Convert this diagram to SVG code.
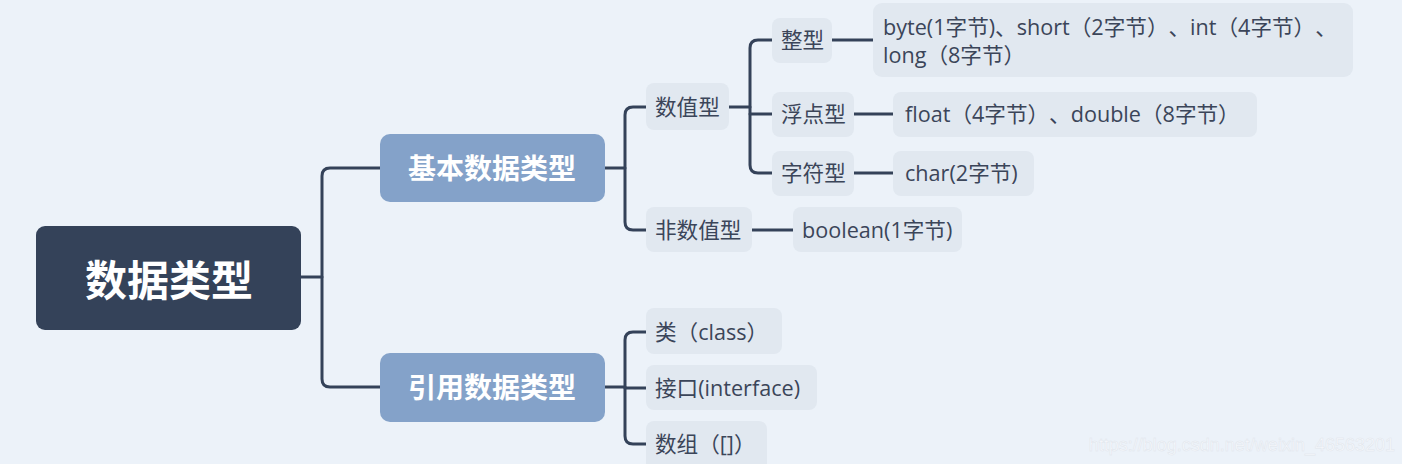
<svg xmlns="http://www.w3.org/2000/svg" width="1402" height="464" viewBox="0 0 1402 464">
<style>
.t{font-family:"Open Sans","Noto Sans CJK SC",sans-serif;font-size:21.6px;fill:#3b4559;dominant-baseline:central;text-spacing-trim:space-all}
.leaf{fill:#e1e8f0}
.main{fill:#84a2c9}
.mt{font-family:"Noto Sans CJK SC","Noto Sans",sans-serif;font-size:28px;font-weight:bold;fill:#ffffff;text-anchor:middle;dominant-baseline:central}
.ln{fill:none;stroke:#344259;stroke-width:3;stroke-linecap:round}
</style>
<rect width="1402" height="464" fill="#ecf2f9"/>
<g id="connectors">
<path class="ln" d="M301,277 H322"/>
<path class="ln" d="M380,168 H330 Q322,168 322,176 V379 Q322,387 330,387 H380"/>
<path class="ln" d="M605,168 H625"/>
<path class="ln" d="M646,107 H633 Q625,107 625,115 V222 Q625,230 633,230 H646"/>
<path class="ln" d="M729,107 H750"/>
<path class="ln" d="M772,40 H758 Q750,40 750,48 V165 Q750,173 758,173 H772"/>
<path class="ln" d="M750,114 H772"/>
<path class="ln" d="M832,40 H873"/>
<path class="ln" d="M854,114 H893"/>
<path class="ln" d="M854,173 H893"/>
<path class="ln" d="M752,230 H793"/>
<path class="ln" d="M605,387 H625"/>
<path class="ln" d="M646,332 H633 Q625,332 625,340 V436 Q625,444 633,444 H646"/>
<path class="ln" d="M625,388 H646"/>
</g>
<g id="root">
<rect x="36" y="226" width="265" height="104" rx="9" fill="#344259"/>
<text x="169" y="277" class="mt" style="font-size:42px">数据类型</text>
</g>
<g id="basic">
<rect x="380" y="134" width="225" height="68" rx="10" class="main"/>
<text x="492" y="167" class="mt">基本数据类型</text>
</g>
<g id="ref">
<rect x="380" y="353" width="225" height="69" rx="10" class="main"/>
<text x="492" y="386" class="mt">引用数据类型</text>
</g>
<g id="numeric">
<rect x="646" y="83" width="83" height="47" rx="8" class="leaf"/>
<text x="655" y="106" class="t">数值型</text>
</g>
<g id="nonnumeric">
<rect x="646" y="207" width="106" height="45" rx="8" class="leaf"/>
<text x="655" y="229" class="t">非数值型</text>
</g>
<g id="integer">
<rect x="772" y="18" width="60" height="45" rx="8" class="leaf"/>
<text x="781" y="39" class="t">整型</text>
</g>
<g id="float">
<rect x="772" y="92" width="82" height="45" rx="8" class="leaf"/>
<text x="781" y="113" class="t">浮点型</text>
</g>
<g id="char">
<rect x="772" y="151" width="82" height="45" rx="8" class="leaf"/>
<text x="781" y="172" class="t">字符型</text>
</g>
<g id="intleaf">
<rect x="873" y="3" width="480" height="74" rx="9" class="leaf"/>
<text x="883" y="26" class="t">byte(1字节)、short（2字节）、int（4字节）、</text>
<text x="883" y="54" class="t">long（8字节）</text>
</g>
<g id="floatleaf">
<rect x="893" y="92" width="364" height="45" rx="8" class="leaf"/>
<text x="905" y="113" class="t">float（4字节）、double（8字节）</text>
</g>
<g id="charleaf">
<rect x="893" y="151" width="141" height="45" rx="8" class="leaf"/>
<text x="905" y="172" class="t">char(2字节)</text>
</g>
<g id="boolleaf">
<rect x="793" y="207" width="169" height="45" rx="8" class="leaf"/>
<text x="802" y="229" class="t">boolean(1字节)</text>
</g>
<g id="class">
<rect x="646" y="308" width="136" height="46" rx="8" class="leaf"/>
<text x="655" y="331" class="t">类（class）</text>
</g>
<g id="interface">
<rect x="646" y="365" width="171" height="45" rx="8" class="leaf"/>
<text x="655" y="387" class="t">接口(interface)</text>
</g>
<g id="array">
<rect x="646" y="421" width="121" height="50" rx="8" class="leaf"/>
<text x="655" y="443" class="t">数组（[]）</text>
</g>
<text x="1395" y="445" text-anchor="end" style="font-family:'Liberation Sans',sans-serif;font-size:18px;fill:#f7f9fc;stroke:#e0e5ec;stroke-width:0.5;dominant-baseline:central">https://blog.csdn.net/weixin_46563201</text>
</svg>
